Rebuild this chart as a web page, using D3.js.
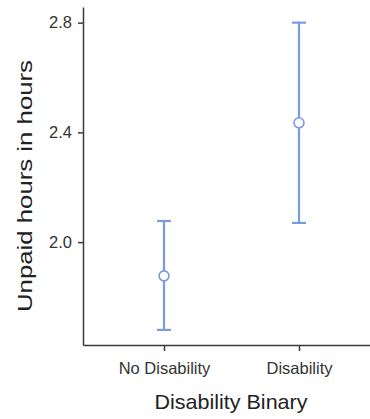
<!DOCTYPE html>
<html>
<head>
<meta charset="utf-8">
<script src="https://cdn.jsdelivr.net/npm/d3@7"></script>
<style>
  body { margin: 0; background: #fff; }
  svg { font-family: "Liberation Sans", Arial, sans-serif; }
</style>
</head>
<body>
<div class="chartHolder"></div>
<script>
let groups = ["No Disability", "Disability"],
  means = [1.877, 2.435],
  lower = [1.68, 2.07],
  upper = [2.077, 2.80],
  yTicks = [2.0, 2.4, 2.8];

let w = 370,
  h = 419,
  xLeft = 83,
  yBottom = 345,
  yTop = 7,
  barColor = "#7b9be0";

let svg = d3.select(".chartHolder")
  .append("svg")
  .attr("width", w)
  .attr("height", h);

let xScale = d3.scalePoint()
  .domain(groups)
  .range([xLeft, 380])
  .padding(0.6);

let yScale = d3.scaleLinear()
  .domain([1.625, 2.857])
  .range([yBottom, yTop]);

// axes - tickSize first, it also resets the outer size
let xAxis = svg.append("g")
  .attr("transform", "translate(0," + yBottom + ")")
  .call(d3.axisBottom(xScale).tickSize(6).tickSizeOuter(0).tickPadding(11));

let yAxis = svg.append("g")
  .attr("transform", "translate(" + xLeft + ",0)")
  .call(d3.axisLeft(yScale).tickValues(yTicks).tickFormat(d3.format(".1f")).tickSize(5).tickSizeOuter(0).tickPadding(6));

[xAxis, yAxis].forEach(g => {
  g.select(".domain").attr("stroke", "#3a3a3a").attr("stroke-width", 1.5);
  g.selectAll(".tick line").attr("stroke", "#3a3a3a").attr("stroke-width", 1.5);
  g.selectAll(".tick text").attr("fill", "#333").style("font-size", "16.5px");
});

// the reference is a bit stretched, so fit titles to their measured length
svg.append("text")
  .attr("x", 231)
  .attr("y", 409)
  .attr("text-anchor", "middle")
  .attr("fill", "#222")
  .attr("textLength", 153)
  .attr("lengthAdjust", "spacingAndGlyphs")
  .style("font-size", "21px")
  .text("Disability Binary");

svg.append("text")
  .attr("transform", "rotate(-90)")
  .attr("x", -186)
  .attr("y", 32)
  .attr("text-anchor", "middle")
  .attr("fill", "#222")
  .attr("textLength", 252)
  .attr("lengthAdjust", "spacingAndGlyphs")
  .style("font-size", "21px")
  .text("Unpaid hours in hours");

// error bars
let bars = svg.selectAll(".err")
  .data(groups)
  .enter()
  .append("g")
  .attr("class", "err");

bars.append("line")
  .attr("x1", d => xScale(d))
  .attr("x2", d => xScale(d))
  .attr("y1", (d, i) => yScale(lower[i]))
  .attr("y2", (d, i) => yScale(upper[i]))
  .attr("stroke", barColor)
  .attr("stroke-width", 2.2);

bars.selectAll(".cap")
  .data((d, i) => [{ g: d, v: lower[i] }, { g: d, v: upper[i] }])
  .enter()
  .append("line")
  .attr("class", "cap")
  .attr("x1", d => xScale(d.g) - 7)
  .attr("x2", d => xScale(d.g) + 7)
  .attr("y1", d => yScale(d.v))
  .attr("y2", d => yScale(d.v))
  .attr("stroke", barColor)
  .attr("stroke-width", 2.2);

bars.append("circle")
  .attr("cx", d => xScale(d))
  .attr("cy", (d, i) => yScale(means[i]))
  .attr("r", 5)
  .attr("fill", "#fff")
  .attr("stroke", barColor)
  .attr("stroke-width", 1.6);
</script>
</body>
</html>
